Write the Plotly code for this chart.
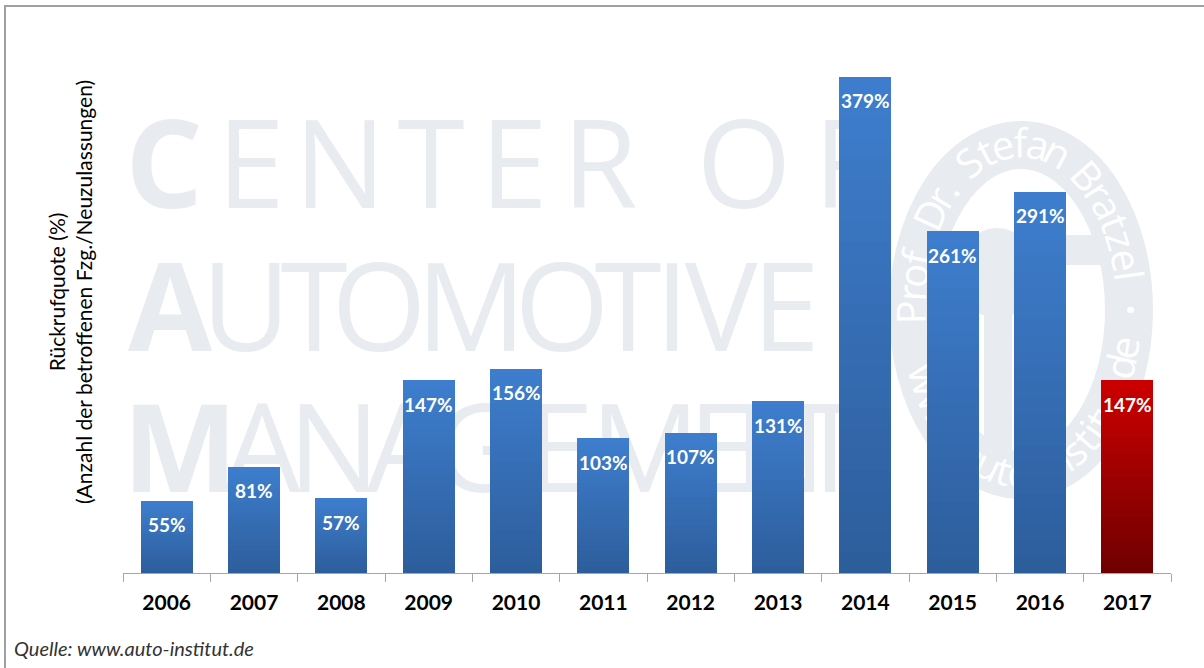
import numpy as np
import plotly.graph_objects as go

# ---------------- data ----------------
years = ["2006", "2007", "2008", "2009", "2010", "2011",
         "2012", "2013", "2014", "2015", "2016", "2017"]
recall_rate = [55, 81, 57, 147, 156, 103, 107, 131, 379, 261, 291, 147]
value_labels = [f"{v}%" for v in recall_rate]
is_forecast = [False] * 11 + [True]

y_title = "Rückrufquote (%)<br>(Anzahl der betroffenen Fzg./Neuzulassungen)"
source = "Quelle: www.auto-institut.de"

# ---------------- styling ----------------
W_FIG, H_FIG = 1204, 668
L, R, T, B = 123, 1171, 49, 573          # plot area in pixels
PW, PH = R - L, B - T

def px_x(p):
    return (p - L) / PW

def px_y(p):
    return (B - p) / PH

BLUE_TOP, BLUE_BOT = (62, 126, 206), (45, 93, 155)
RED_TOP, RED_BOT = (204, 0, 0), (110, 0, 0)
WM = "#e8ebf0"

def mix(a, b, t):
    return "rgb({},{},{})".format(*[int(round(a[i] + (b[i] - a[i]) * t)) for i in range(3)])

fig = go.Figure()

# gradient bars: each bar is split into N stacked slices of value/N
N = 24
for k in range(N):
    t = (k + 0.5) / N
    colors = [mix(RED_BOT, RED_TOP, t) if f else mix(BLUE_BOT, BLUE_TOP, t) for f in is_forecast]
    fig.add_trace(go.Bar(
        x=years, y=[v / N for v in recall_rate],
        marker=dict(color=colors, line=dict(width=0)),
        hoverinfo="skip", showlegend=False,
    ))

shapes = []

# outer frame
shapes.append(dict(type="rect", xref="paper", yref="paper",
                   x0=px_x(5), x1=px_x(1230), y0=px_y(690), y1=px_y(6),
                   line=dict(color="#a0a0a0", width=2), fillcolor="rgba(0,0,0,0)",
                   layer="below"))

# watermark letters
def letter(ch, cx, cy, size=122, bold=False):
    txt = f"<b>{ch}</b>" if bold else ch
    shapes.append(dict(type="rect", xref="paper", yref="paper",
                       x0=px_x(cx - 1), x1=px_x(cx + 1), y0=px_y(cy + 1), y1=px_y(cy - 1),
                       line=dict(width=0), fillcolor="rgba(0,0,0,0)", layer="below",
                       label=dict(text=txt, textposition="middle center",
                                  font=dict(family="Open Sans, sans-serif",
                                            size=size, color=WM))))

rows = [
    ("CENTEROF", [164, 251, 340, 431, 514, 600, 744, 845], 169),
    ("AUTOMOTIVE", [170, 246, 314, 379, 471, 562, 628, 672, 721, 786], 312),
    ("MANAGEMENT", [180, 262, 334, 405, 478, 560, 645, 722, 780, 830], 453),
]
for word, xs, cy in rows:
    for i, (ch, cx) in enumerate(zip(word, xs)):
        letter(ch, cx, cy, bold=(i == 0))

# logo: steering wheel ring
CX, CY, RX, RY = 1021, 310, 108, 165
shapes.append(dict(type="circle", xref="paper", yref="paper",
                   x0=px_x(CX - RX), x1=px_x(CX + RX), y0=px_y(CY + RY), y1=px_y(CY - RY),
                   line=dict(color=WM, width=48), fillcolor="rgba(0,0,0,0)", layer="below"))
shapes.append(dict(type="line", xref="paper", yref="paper",
                   x0=px_x(905), x1=px_x(1135), y0=px_y(250), y1=px_y(250),
                   line=dict(color=WM, width=30), layer="below"))
shapes.append(dict(type="circle", xref="paper", yref="paper",
                   x0=px_x(957), x1=px_x(1037), y0=px_y(318), y1=px_y(228),
                   line=dict(width=0), fillcolor=WM, layer="below"))
shapes.append(dict(type="rect", xref="paper", yref="paper",
                   x0=px_x(984), x1=px_x(1012), y0=px_y(480), y1=px_y(290),
                   line=dict(width=0), fillcolor=WM, layer="below"))

def cw(c):
    if c in ".,:;!|iIlj'":
        return 0.30
    if c in "ftr- ":
        return 0.40
    if c in "mwMW":
        return 0.85
    if c == "•":
        return 0.5
    if c.isupper():
        return 0.66
    return 0.56

def arc_text(text, th0, th1, size=40):
    a0, a1 = np.radians(th0), np.radians(th1)
    ths = np.linspace(a0, a1, 3000)
    xs = CX + RX * np.cos(ths)
    ys = CY - RY * np.sin(ths)
    cum = np.concatenate([[0], np.cumsum(np.hypot(np.diff(xs), np.diff(ys)))])
    ws = [cw(c) for c in text]
    tot = sum(ws)
    acc = 0
    for c, w in zip(text, ws):
        s = cum[-1] * (acc + w / 2) / tot
        acc += w
        if c == " ":
            continue
        th = np.interp(s, cum, ths)
        px = CX + RX * np.cos(th)
        py = CY - RY * np.sin(th)
        if a1 < a0:
            ang = np.degrees(np.arctan2(RY * np.cos(th), RX * np.sin(th)))
        else:
            ang = np.degrees(np.arctan2(-RY * np.cos(th), -RX * np.sin(th)))
        shapes.append(dict(type="rect", xref="paper", yref="paper",
                           x0=px_x(px - 1), x1=px_x(px + 1), y0=px_y(py + 1), y1=px_y(py - 1),
                           line=dict(width=0), fillcolor="rgba(0,0,0,0)", layer="below",
                           label=dict(text=c, textposition="middle center", textangle=float(ang),
                                      font=dict(family="Open Sans, sans-serif", size=size,
                                                color="white"))))

arc_text("Prof. Dr. Stefan Bratzel", 185, 10)
arc_text("•", 2, -2, size=30)
arc_text("www.auto-institut.de", 200, 350)

# value labels (category index positions on the category axis)
annotations = []
for idx, (v, lab) in enumerate(zip(recall_rate, value_labels)):
    annotations.append(dict(x=idx, y=v, xref="x", yref="y", text=f"<b>{lab}</b>",
                            showarrow=False, yanchor="middle", yshift=-24,
                            font=dict(family="Lato, sans-serif", size=19, color="white")))

annotations.append(dict(xref="paper", yref="paper", x=px_x(70), y=px_y(292),
                        text=y_title, textangle=-90, showarrow=False,
                        xanchor="center", yanchor="middle",
                        font=dict(family="Lato, sans-serif", size=21, color="black")))
annotations.append(dict(xref="paper", yref="paper", x=px_x(12), y=px_y(648),
                        text=f"<i>{source}</i>", showarrow=False,
                        xanchor="left", yanchor="middle",
                        font=dict(family="Lato, sans-serif", size=20, color="#333333")))

fig.update_layout(
    width=W_FIG, height=H_FIG,
    margin=dict(l=L, r=W_FIG - R, t=T, b=H_FIG - B, autoexpand=False),
    barmode="stack", bargap=0.405,
    paper_bgcolor="white", plot_bgcolor="rgba(0,0,0,0)",
    showlegend=False,
    shapes=shapes, annotations=annotations,
    xaxis=dict(type="category", categoryorder="array", categoryarray=years,
               range=[-0.5, len(years) - 0.5],
               tickson="boundaries", ticks="outside", ticklen=8,
               tickcolor="#a6a6a6", showline=True, linecolor="#a6a6a6", linewidth=1,
               showgrid=False, ticklabelstandoff=11,
               tickfont=dict(family="Lato, sans-serif", size=21, color="black", weight="bold")),
    yaxis=dict(range=[0, 400], visible=False, showgrid=False),
)

fig.write_html("out.html")
